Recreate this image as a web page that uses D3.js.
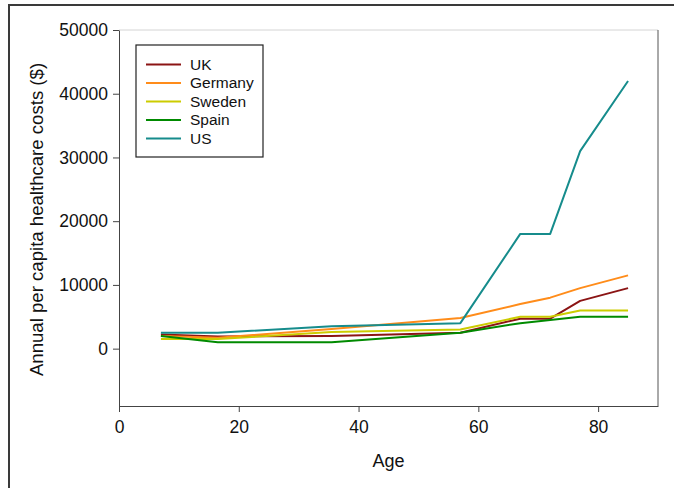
<!DOCTYPE html>
<html>
<head>
<meta charset="utf-8">
<script src="https://cdn.jsdelivr.net/npm/d3@7"></script>
<style>
  body { margin: 0; background: #fff; }
  svg { display: block; }
  svg text { font-family: 'Liberation Sans', Arial, sans-serif; }
</style>
</head>
<body>
<div id="chart"></div>
<script>
// data
const ages = [7, 16.5, 35.5, 57, 67, 72, 77, 85];
const countries = ['UK', 'Germany', 'Sweden', 'Spain', 'US'];
const colors = ['#8b1414', '#ff8c1a', '#cccc00', '#008a00', '#168c8c'];
const ukCosts = [2200, 1900, 2000, 2500, 4700, 4700, 7500, 9500];
const germanyCosts = [2000, 1700, 3100, 4800, 7000, 8000, 9500, 11500];
const swedenCosts = [1500, 1500, 2600, 3000, 5000, 5000, 6000, 6000];
const spainCosts = [2000, 1000, 1000, 2500, 4000, 4500, 5000, 5000];
const usCosts = [2500, 2500, 3500, 4000, 18000, 18000, 31000, 42000];
const yTicks = [0, 10000, 20000, 30000, 40000, 50000];
const xTicks = [0, 20, 40, 60, 80];

const series = [ukCosts, germanyCosts, swedenCosts, spainCosts, usCosts];

const width = 674;
const height = 488;
const margin = { left: 119, right: 16, top: 30, bottom: 82 };

const svg = d3.select('#chart')
  .append('svg')
  .attr('width', width)
  .attr('height', height);

// outer frame (cut off on the right and bottom)
svg.append('path')
  .attr('d', 'M9,' + height + 'V5H' + width)
  .attr('fill', 'none')
  .attr('stroke', '#3a3a3a')
  .attr('stroke-width', 2);

const xScale = d3.scaleLinear().domain([0, 90]).range([margin.left, width - margin.right]);
const yScale = d3.scaleLinear().domain([-9000, 50000]).range([height - margin.bottom, margin.top]);

// top (light) and right plot borders
svg.append('line')
  .attr('x1', margin.left).attr('x2', width - margin.right)
  .attr('y1', margin.top).attr('y2', margin.top)
  .attr('stroke', '#d4d4d4');
svg.append('line')
  .attr('x1', width - margin.right).attr('x2', width - margin.right)
  .attr('y1', margin.top).attr('y2', height - margin.bottom)
  .attr('stroke', '#555');

const xAxis = d3.axisBottom(xScale).tickValues(xTicks).tickSize(6).tickSizeOuter(0);
const xAxisSvg = svg.append('g')
  .attr('transform', 'translate(0,' + (height - margin.bottom) + ')')
  .call(xAxis);
xAxisSvg.selectAll('text')
  .attr('y', 15)
  .style('font-size', '17.5px')
  .attr('fill', '#111');

const yAxis = d3.axisLeft(yScale)
  .tickValues(yTicks)
  .tickFormat(d3.format('d'))
  .tickSize(6)
  .tickSizeOuter(0);
const yAxisSvg = svg.append('g')
  .attr('transform', 'translate(' + margin.left + ',0)')
  .call(yAxis);
yAxisSvg.selectAll('text')
  .attr('x', -11)
  .style('font-size', '17.5px')
  .attr('fill', '#111');

svg.selectAll('.domain, .tick line').attr('stroke', '#444');

// axis titles
svg.append('text')
  .attr('x', (xScale(0) + xScale(90)) / 2)
  .attr('y', 467)
  .attr('text-anchor', 'middle')
  .style('font-size', '18px')
  .attr('fill', '#111')
  .text('Age');

svg.append('text')
  .attr('transform', 'translate(42.5,219.5) rotate(-90)')
  .attr('text-anchor', 'middle')
  .style('font-size', '18.6px')
  .attr('fill', '#111')
  .text('Annual per capita healthcare costs ($)');

// lines
const line = d3.line()
  .x((d, i) => xScale(ages[i]))
  .y((d) => yScale(d));

svg.append('g')
  .selectAll('path')
  .data(series)
  .enter()
  .append('path')
  .attr('d', (d) => line(d))
  .attr('fill', 'none')
  .attr('stroke', (d, i) => colors[i])
  .attr('stroke-width', 2)
  .attr('stroke-linejoin', 'round');

// legend
const legend = svg.append('g').attr('transform', 'translate(136,45)');
legend.append('rect')
  .attr('width', 127)
  .attr('height', 112)
  .attr('fill', '#fff')
  .attr('stroke', '#222')
  .attr('stroke-width', 1.2);

const items = legend.selectAll('g.item')
  .data(countries)
  .enter()
  .append('g')
  .attr('class', 'item')
  .attr('transform', (d, i) => 'translate(0,' + (19.5 + i * 18.5) + ')');
items.append('line')
  .attr('x1', 10).attr('x2', 45)
  .attr('stroke', (d, i) => colors[i])
  .attr('stroke-width', 2);
items.append('text')
  .attr('x', 54)
  .attr('dy', '0.35em')
  .style('font-size', '15.5px')
  .attr('fill', '#111')
  .text((d) => d);
</script>
</body>
</html>
